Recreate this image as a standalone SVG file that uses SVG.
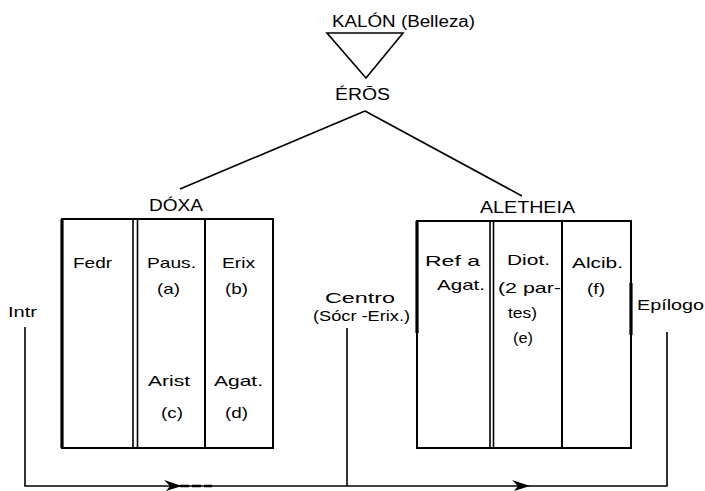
<svg xmlns="http://www.w3.org/2000/svg" width="705" height="491" viewBox="0 0 705 491">
<style>
text{font-family:"Liberation Sans",Arial,sans-serif;font-size:15px;fill:#000}
.t{font-size:16px}
.box{fill:none;stroke:#000;stroke-width:2}
.ln{fill:none;stroke:#000;stroke-width:1.6}
.thick{stroke:#000;stroke-width:3.2;fill:none}
</style>
<defs>
<marker id="arr" viewBox="0 0 20 12" refX="18" refY="6" markerWidth="20" markerHeight="12" markerUnits="userSpaceOnUse" orient="auto">
<path d="M2,0 L20,6 L4,11 L8,6 Z" fill="#000"/>
</marker>
</defs>
<rect width="705" height="491" fill="#fff"/>

<g id="kalon">
<text class="t" x="332" y="27" textLength="143" lengthAdjust="spacingAndGlyphs">KALÓN (Belleza)</text>
<polygon class="ln" points="327,33 403,33 366,78"/>
</g>

<g id="eros">
<text class="t" x="335" y="100" textLength="55" lengthAdjust="spacingAndGlyphs">ÉRŌS</text>
</g>

<g id="doxa">
<text class="t" x="149" y="211" textLength="54" lengthAdjust="spacingAndGlyphs">DÓXA</text>
<rect class="box" x="62" y="219" width="211" height="229"/>
<line class="thick" x1="62" y1="219" x2="62" y2="448"/>
<line class="ln" x1="133" y1="219" x2="133" y2="448"/>
<line class="ln" x1="137.5" y1="219" x2="137.5" y2="448"/>
<line class="box" x1="205" y1="219" x2="205" y2="448"/>
<text x="73" y="268" textLength="39" lengthAdjust="spacingAndGlyphs">Fedr</text>
<text x="147" y="268" textLength="49" lengthAdjust="spacingAndGlyphs">Paus.</text>
<text x="157" y="294" textLength="23" lengthAdjust="spacingAndGlyphs">(a)</text>
<text x="148" y="386" textLength="42" lengthAdjust="spacingAndGlyphs">Arist</text>
<text x="161" y="418" textLength="22" lengthAdjust="spacingAndGlyphs">(c)</text>
<text x="222" y="268" textLength="33" lengthAdjust="spacingAndGlyphs">Erix</text>
<text x="225" y="294" textLength="23" lengthAdjust="spacingAndGlyphs">(b)</text>
<text x="214" y="386" textLength="49" lengthAdjust="spacingAndGlyphs">Agat.</text>
<text x="225" y="418" textLength="23" lengthAdjust="spacingAndGlyphs">(d)</text>
</g>

<g id="aletheia">
<text class="t" x="480" y="213" textLength="95" lengthAdjust="spacingAndGlyphs">ALETHEIA</text>
<rect class="box" x="417" y="221" width="214" height="227"/>
<line class="thick" x1="417" y1="221" x2="417" y2="333"/>
<line class="thick" x1="631" y1="283" x2="631" y2="335"/>
<line class="ln" x1="490" y1="221" x2="490" y2="448"/>
<line class="ln" x1="493.5" y1="221" x2="493.5" y2="448"/>
<line class="box" x1="562" y1="221" x2="562" y2="448"/>
<text x="425" y="266" textLength="55" lengthAdjust="spacingAndGlyphs">Ref  a</text>
<text x="437" y="290" textLength="48" lengthAdjust="spacingAndGlyphs">Agat.</text>
<text x="507" y="265" textLength="43" lengthAdjust="spacingAndGlyphs">Diot.</text>
<text x="498" y="293" textLength="63" lengthAdjust="spacingAndGlyphs">(2 par-</text>
<text x="508" y="318" textLength="29" lengthAdjust="spacingAndGlyphs">tes)</text>
<text x="513" y="343" textLength="20" lengthAdjust="spacingAndGlyphs">(e)</text>
<text x="572" y="268" textLength="51" lengthAdjust="spacingAndGlyphs">Alcib.</text>
<text x="587" y="294" textLength="18" lengthAdjust="spacingAndGlyphs">(f)</text>
</g>

<g id="intr">
<text x="8" y="317" textLength="29" lengthAdjust="spacingAndGlyphs">Intr</text>
</g>
<g id="centro">
<text x="325" y="303" textLength="70" lengthAdjust="spacingAndGlyphs">Centro</text>
<text x="313" y="321" textLength="97" lengthAdjust="spacingAndGlyphs">(Sócr -Erix.)</text>
</g>
<g id="epilogo">
<text x="637" y="310" textLength="67" lengthAdjust="spacingAndGlyphs">Epílogo</text>
</g>

<g id="connectors">
<path class="ln" d="M365,111 L180,189"/>
<path class="ln" d="M365,111 L522,196"/>
<path class="ln" d="M25,327 V486 H180" marker-end="url(#arr)"/>
<path class="ln" d="M180,486 H528" marker-end="url(#arr)"/>
<path class="ln" d="M528,486 H667 V332"/>
<path class="ln" d="M347,328 V486"/>
<path d="M180,486 H212" stroke="#000" stroke-width="2.6" stroke-dasharray="9,3"/>
</g>
</svg>
